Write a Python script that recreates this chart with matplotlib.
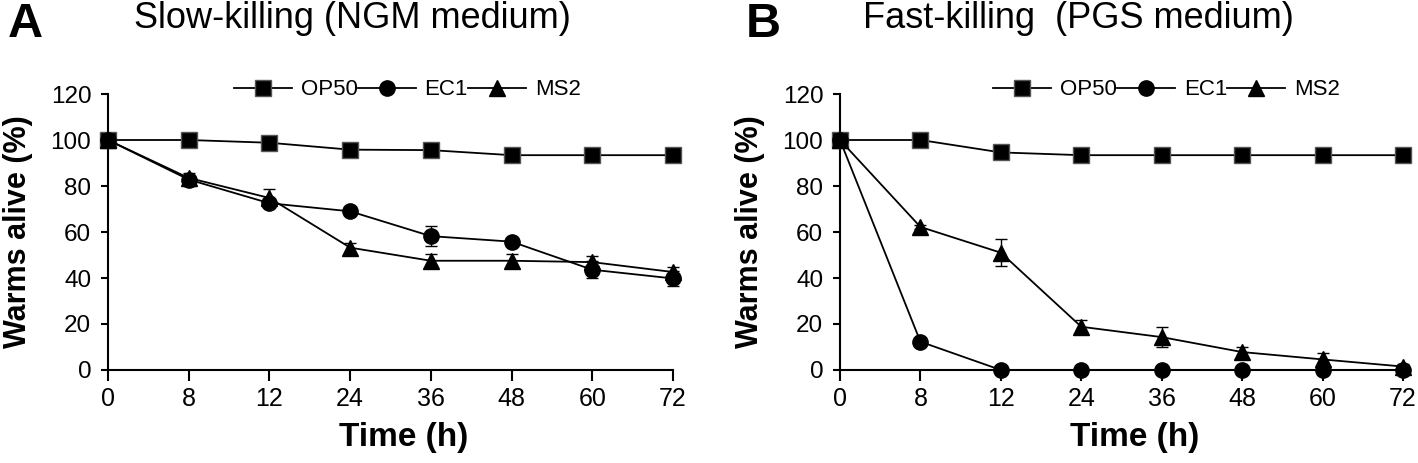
"""Survival curves of C. elegans on slow-killing and fast-killing media."""

import matplotlib
matplotlib.use("Agg")
import matplotlib.pyplot as plt
from matplotlib.lines import Line2D

plt.rcParams["font.family"] = ["Liberation Sans", "DejaVu Sans"]

# ---------------------------------------------------------------------------
# Data
# ---------------------------------------------------------------------------
time_labels = ["0", "8", "12", "24", "36", "48", "60", "72"]

# Panel A: slow-killing (NGM)
a_op50 = [100, 100, 98.8, 95.8, 95.6, 93.4, 93.4, 93.4]
a_ec1 = [100, 82.8, 72.5, 69.0, 58.2, 55.8, 43.6, 39.8]
a_ec1_err = [0, 3.0, 1.5, 1.0, 4.2, 1.5, 3.6, 3.4]
a_ms2 = [100, 83.5, 74.8, 53.2, 47.5, 47.5, 46.9, 42.6]
a_ms2_err = [0, 1.0, 3.8, 2.0, 3.0, 3.0, 2.6, 2.0]

# Panel B: fast-killing (PGS)
b_op50 = [100, 100, 94.6, 93.4, 93.4, 93.4, 93.4, 93.4]
b_ec1 = [100, 12.3, 0, 0, 0, 0, 0, 0]
b_ec1_err = [0, 0.8, 0, 0, 0, 0, 0, 0]
b_ms2 = [100, 62.2, 51.0, 18.8, 14.3, 7.8, 4.6, 1.5]
b_ms2_err = [0, 1.0, 5.8, 3.0, 4.2, 2.4, 3.0, 1.0]

panels = [
    ("A", "Slow-killing (NGM medium)", a_op50, a_ec1, a_ec1_err, a_ms2, a_ms2_err),
    ("B", "Fast-killing  (PGS medium)", b_op50, b_ec1, b_ec1_err, b_ms2, b_ms2_err),
]

W, H = 1418, 463
fig = plt.figure(figsize=(W / 100, H / 100), dpi=100)
# axes boxes in pixels: left, right, top (120), bottom (0)
boxes = [(108, 673, 94, 370), (840, 1403, 94, 370)]
legend_x = [0.53, 0.58]
letter_x = [8, 746]
title_x = [134, 863]

x = list(range(len(time_labels)))
for i, (letter, title, op50, ec1, ec1_err, ms2, ms2_err) in enumerate(panels):
    l, r, t, b = boxes[i]
    ax = fig.add_axes([l / W, 1 - b / H, (r - l) / W, (b - t) / H])
    line_kw = dict(color="black", lw=1.3, clip_on=False, zorder=3)
    err_kw = dict(ecolor="black", elinewidth=1.0, capsize=4, capthick=1.0)

    ax.plot(x, op50, marker="s", ms=11, mfc="black", mec="#555555", mew=1.0, **line_kw)
    ax.errorbar(x, ec1, yerr=ec1_err, marker="o", ms=11, mfc="black", mec="black",
                **line_kw, **err_kw)
    ax.errorbar(x, ms2, yerr=ms2_err, marker="^", ms=11, mfc="black", mec="black",
                **line_kw, **err_kw)

    ax.set_xlim(0, 7)
    ax.set_ylim(0, 120)
    ax.set_xticks(x)
    ax.set_xticklabels(time_labels)
    ax.set_yticks(range(0, 121, 20))
    for side in ("top", "right"):
        ax.spines[side].set_visible(False)
    for side in ("left", "bottom"):
        ax.spines[side].set_linewidth(1.5)
    ax.tick_params(axis="x", direction="out", length=8, width=1.5, labelsize=18, pad=4)
    ax.tick_params(axis="y", direction="out", length=5, width=1.5, labelsize=17.5, pad=7)

    ax.set_xlabel("Time (h)", fontsize=24, fontweight="bold")
    ax.xaxis.set_label_coords(0.524, -0.19)
    ax.set_ylabel("Warms alive (%)", fontsize=22, fontweight="bold")
    ax.yaxis.set_label_coords(-0.133, 0.5)

    handles = [
        Line2D([], [], color="black", lw=1.3, marker="s", ms=11, mfc="black", mec="#555555"),
        Line2D([], [], color="black", lw=1.3, marker="o", ms=11, mfc="black"),
        Line2D([], [], color="black", lw=1.3, marker="^", ms=11, mfc="black"),
    ]
    ax.legend(handles, ["OP50", "EC1", "MS2"], ncol=3, loc="center",
              bbox_to_anchor=(legend_x[i], 1.015), frameon=False, fontsize=16,
              handlelength=2.6, handletextpad=0.4, columnspacing=0.0,
              borderaxespad=0)

    fig.text(letter_x[i] / W, 1 - 37 / H, letter, fontsize=35,
             fontweight="bold", ha="left", va="baseline")
    fig.text(title_x[i] / W, 1 - 28 / H, title, fontsize=26,
             ha="left", va="baseline")

fig.savefig("out.png", dpi=100)
